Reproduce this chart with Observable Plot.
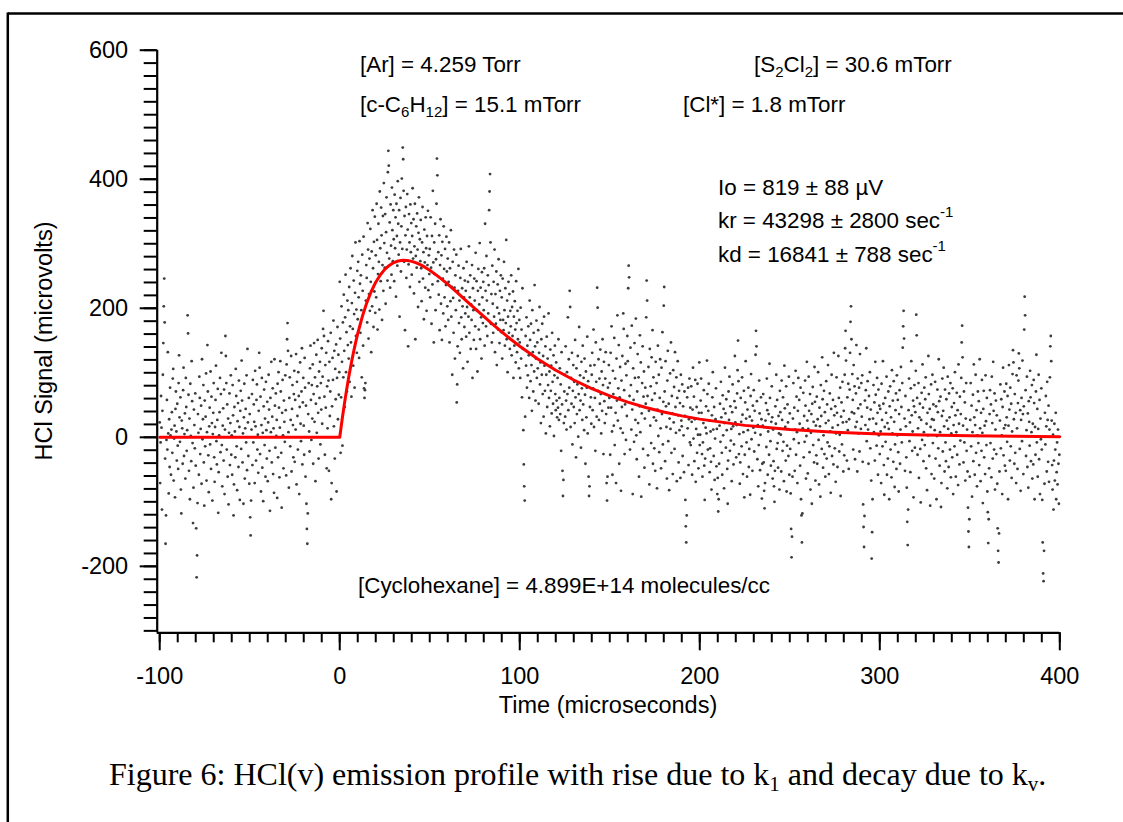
<!DOCTYPE html>
<html>
<head>
<meta charset="utf-8">
<script src="https://cdn.jsdelivr.net/npm/d3@7"></script>
<script src="https://cdn.jsdelivr.net/npm/@observablehq/plot@0.6"></script>
<style>
  html, body { margin: 0; padding: 0; background: #fff; }
  #page { position: relative; width: 1123px; height: 822px; overflow: hidden; background: #fff; }
  #page > svg { position: absolute; left: 0; top: 0; }
  #overlay { pointer-events: none; }
</style>
</head>
<body>
<div id="page"></div>
<script>
// ---- Scatter data: HCl signal (microvolts), sampled every 0.25 µs, in 50 µs segments ----
const segStarts = [-100, -50, 0, 50, 100, 150, 200, 250, 300, 350];
const sampleStep = 0.25;

const segM100 = [
23,-71,-8,64,15,-112,41,97,146,203,246,178,-33,-165,-121,-4,58,-19,132,6,
-87,28,-46,77,3,-58,12,39,-24,91,106,-67,-2,18,-93,44,71,9,-36,52,
-13,-49,84,127,31,-7,62,-81,-118,26,14,-41,73,108,-29,5,37,-64,92,47,
-21,11,189,161,66,-52,29,-96,83,2,-37,118,56,-9,-133,-78,43,19,-17,68,
-44,-141,-217,-183,-102,36,7,-58,94,61,-26,13,49,-72,121,-3,28,81,-39,-106,
57,-14,32,99,-67,8,143,71,-28,-85,17,46,-11,102,-49,63,22,-98,5,38,
84,-31,-69,16,58,111,-6,-42,27,75,-117,-54,3,39,92,-23,67,131,-12,-76,
18,45,-36,74,-88,12,157,126,84,-19,51,-61,29,-104,7,68,-43,22,96,-27,
3,-58,81,34,-121,-73,47,9,-31,106,64,-14,-82,25,53,-46,88,16,-97,41,
72,-18,119,57,-39,6,-103,31,83,-64,14,44,-8,96,-51,137,23,-29,61,-72];

const segM50 = [
36,-124,-152,-98,12,67,-43,89,-8,51,24,-71,103,17,-36,58,82,-19,4,-55,
41,131,108,-26,63,-84,19,92,-47,7,-99,48,74,-12,29,-61,86,11,-33,55,
-68,23,97,43,-21,-114,61,8,117,-39,32,76,-57,14,-86,121,49,-16,68,2,
27,-94,83,-31,101,46,-62,15,118,71,-24,-109,38,89,3,-48,57,24,-7,96,
42,-59,113,152,177,134,8,-78,61,93,-14,27,126,-53,44,81,19,-31,67,103,
-38,58,12,129,-73,86,33,-19,101,64,-88,47,116,21,-6,71,138,-42,54,92,
18,-27,123,77,-61,49,-103,-142,-165,-118,36,84,9,-22,107,142,58,-4,81,29,
113,-41,67,146,24,93,-68,52,128,7,79,151,38,-33,102,61,117,-11,84,43,
138,21,94,168,196,157,63,-27,112,46,131,-48,79,14,149,88,-52,117,33,71,
162,-96,-71,48,123,89,181,17,134,-33,106,59,144,-84,92,171,28,128,66,101];

const seg0 = [
241,153,-24,62,203,117,-13,178,93,221,134,47,186,252,101,163,71,212,143,197,
122,233,86,172,262,147,63,208,281,168,111,243,191,77,224,302,157,198,131,258,
183,272,217,123,304,238,162,251,197,93,283,227,142,311,76,61,73,84,212,267,
247,178,332,291,153,222,277,196,323,241,132,288,203,352,262,171,303,226,342,193,
282,217,362,306,167,253,331,272,198,381,293,242,356,313,182,267,343,227,394,301,
263,346,207,318,372,286,243,411,444,421,277,333,232,361,297,252,387,321,273,352,
307,242,376,293,341,218,362,312,266,397,331,283,352,187,302,371,257,327,401,292,
449,431,382,272,343,166,313,357,247,291,377,322,141,268,346,302,233,361,287,332,
252,312,386,277,338,223,296,362,152,281,327,263,347,291,202,317,372,241,307,273,
337,262,211,302,357,246,287,183,322,271,232,341,293,196,312,267,351,228,282,253];

const seg50 = [
292,217,341,263,176,312,237,382,271,147,302,253,331,197,276,362,432,406,242,287,
221,313,166,267,338,207,282,151,303,246,192,327,261,217,292,172,236,311,257,203,
277,182,241,302,147,262,211,321,187,233,97,272,216,162,291,232,122,251,197,283,
54,82,141,227,266,177,212,131,247,292,186,152,231,203,107,262,217,171,243,192,
227,156,272,202,117,241,187,296,162,217,251,137,206,182,267,92,231,197,151,246,
212,172,286,137,242,196,102,227,261,167,206,301,152,232,186,122,256,217,177,241,
197,262,142,331,227,172,281,212,157,251,192,236,352,381,408,302,176,222,147,266,
207,162,241,187,291,132,222,176,257,112,201,237,167,276,192,146,227,182,251,163,
217,122,246,182,166,272,197,142,231,177,306,152,212,101,187,241,162,222,137,196,
172,251,127,202,157,226,92,187,142,211,167,116,242,177,132,196,152,261,107,182];

const seg100 = [
147,92,201,122,167,62,231,137,11,-42,-76,-98,32,157,111,186,77,142,96,172,
127,61,212,151,87,176,112,41,197,132,71,162,102,236,141,57,122,181,92,147,
107,166,52,131,202,82,116,22,152,97,176,67,126,32,187,111,72,141,6,97,
156,47,122,81,192,61,102,17,136,72,111,37,162,86,52,127,2,96,142,67,
42,116,57,31,92,46,152,27,61,107,36,82,-21,132,51,-52,-91,-66,22,71,
97,32,141,57,12,101,67,186,42,121,77,227,202,16,92,52,131,-11,72,112,
47,86,22,151,62,-31,107,36,82,126,1,67,171,42,96,57,-16,117,76,27,
142,51,92,11,122,66,-41,102,31,77,156,6,87,-61,-91,-76,47,111,62,21,
97,131,42,76,167,16,112,61,-21,147,86,32,232,201,72,121,27,91,52,136,
67,6,102,41,152,81,-26,117,56,22,91,132,36,-71,-98,-61,77,46,112,61];

const seg150 = [
84,-27,131,46,172,9,-58,103,67,18,154,-12,91,38,-71,122,57,189,26,76,
143,-41,62,109,14,-83,88,47,126,7,192,168,73,-26,51,114,-4,96,33,157,
118,231,266,248,64,-19,139,81,12,173,43,-88,107,58,-7,146,92,27,184,3,
-34,71,129,22,93,-61,48,158,8,116,-92,37,84,141,-18,63,102,-47,29,77,
52,186,243,212,64,-28,109,41,-73,137,18,79,-9,124,58,166,-41,93,31,-17,
68,-52,117,26,84,-79,43,142,2,97,-23,61,121,14,-48,108,36,163,-11,55,
204,233,71,-37,118,48,16,-64,88,134,-6,52,-82,29,99,13,147,-24,64,37,
-57,104,23,78,-18,132,47,7,93,-68,61,118,34,-39,72,11,53,-63,97,26,
17,82,-29,48,3,-54,71,33,-97,-138,-163,-121,62,14,77,-43,28,91,-8,46,
-12,79,24,-58,43,108,-2,63,-37,28,89,-69,13,47,-24,83,4,-48,38,116];

const seg200 = [
-12,4,57,91,38,-26,-61,-8,22,73,-44,-97,-33,15,48,6,119,67,-19,41,
83,26,-54,-17,9,-38,-81,34,62,101,12,-29,47,-66,-2,28,76,-45,13,-88,
-63,-115,-96,-41,18,52,-7,86,31,-24,-58,65,3,44,-79,22,108,37,-16,59,
11,-49,-103,-36,71,27,94,-21,48,-5,13,-68,39,82,17,-42,-11,56,126,23,
46,-31,19,68,104,150,87,-26,5,-72,-39,61,24,-14,93,35,-57,8,72,-93,
-27,54,118,29,-8,-61,43,11,77,-46,-18,32,-89,64,98,-3,26,-52,49,15,
73,-22,41,7,128,165,141,56,-34,19,-76,-12,88,37,-51,4,62,28,-95,-41,
18,67,-39,-83,-110,-71,26,53,-15,91,42,-58,9,36,-27,114,61,-6,-44,24,
79,31,-64,12,-37,-76,-100,-52,48,21,97,-18,58,-9,-47,33,6,-81,72,39,
4,-53,88,27,-21,62,-7,-68,111,45,16,-36,79,-84,-13,51,23,-29,94,-58];

const seg250 = [
37,-18,-87,-142,-186,-154,-61,29,84,-3,46,-52,12,103,-27,63,8,-71,41,92,
-9,58,21,-44,77,-96,-121,-163,-118,14,69,-31,33,-7,88,49,-64,2,117,26,
-56,13,94,41,-23,67,-81,7,36,-103,52,78,-12,24,-39,109,55,-67,18,-28,
63,-41,28,101,-4,-73,46,17,-92,81,33,-18,124,59,-47,3,72,-26,39,-61,
22,87,-33,51,-8,112,26,-57,-14,68,9,-86,44,97,-29,15,58,-42,131,34,
-17,48,-69,6,93,38,-46,19,126,61,-22,4,77,-91,32,54,-11,86,23,-53,
41,-28,97,138,165,119,24,-36,62,11,83,-49,28,74,131,179,203,152,39,98,
58,-19,112,37,79,-34,16,68,143,24,-53,91,45,6,77,-22,129,51,13,84,
32,96,-38,-104,-139,-170,-122,57,19,73,138,-6,46,87,12,-41,64,28,101,-17,
43,-67,-188,-147,-96,29,81,8,54,-36,117,66,21,-13,92,38,-58,74,3,49];

const seg300 = [
-26,44,9,-71,83,27,-14,118,52,-43,-89,16,61,-7,38,94,-58,22,-33,71,
13,-96,48,79,-19,31,-62,104,6,57,-38,87,24,-77,-11,42,68,-49,96,3,
58,-23,-84,36,73,-41,12,109,47,-8,84,139,172,196,153,29,-52,64,17,-31,
-78,-131,-167,-112,42,91,-6,23,-54,76,118,34,-21,9,57,-93,48,81,-16,39,
103,190,158,61,-27,14,84,-63,31,52,-18,-101,27,69,-4,113,46,-37,8,77,
-12,59,93,-48,21,-82,38,3,126,67,-29,44,-106,16,82,-57,28,97,-9,51,
27,-64,11,86,-33,48,-96,2,74,39,-17,121,56,-44,8,63,-108,-71,33,91,
-22,41,108,17,-53,74,-8,-37,59,26,-79,94,13,-46,68,31,-19,84,-62,6,
47,-31,76,-88,19,53,-14,101,34,-61,8,69,-27,42,-74,113,21,-42,63,-5,
36,92,147,173,124,18,-39,71,-8,54,-67,29,84,-21,12,-53,-109,-146,-170,-127];

const seg350 = [
-61,27,84,-14,49,-92,8,66,-37,113,31,-58,19,97,-24,42,-76,3,71,-9,
56,-43,121,14,-68,38,-21,89,7,-102,44,72,-31,18,-57,96,25,-12,61,-84,
-116,-164,-127,-48,36,73,-9,51,-62,94,22,-33,117,41,-19,68,-81,12,57,-26,
34,-72,-141,-176,-194,-149,-53,26,82,-17,59,3,-88,47,108,-28,14,71,-44,19,
-52,83,31,-7,64,-96,18,112,43,-36,77,-14,52,-63,9,98,135,116,28,-41,
67,-24,38,-71,96,14,-49,53,88,130,107,-18,42,-83,27,61,-6,119,36,-57,
48,167,218,189,73,-29,11,94,-46,37,-78,56,24,-13,103,62,-37,8,81,-64,
21,-42,89,53,-96,16,-27,71,128,-8,44,-61,13,97,-34,58,-88,29,-3,76,
-19,-97,-163,-211,-223,-176,-72,38,-11,64,17,-53,86,27,-38,49,-69,12,93,141,
157,118,26,-43,-81,4,-112,-36,21,-67,-19,38,-96,-54,-8,-73,12,-41,-103,-27];

const segments = [segM100, segM50, seg0, seg50, seg100, seg150, seg200, seg250, seg300, seg350];

// ---- Fitted curve (red) ----
const fitTime = [-100, 0, 1.25, 2.5, 3.75, 5, 6.25, 7.5, 8.75, 10, 12.5, 15, 17.5, 20, 22.5, 25, 27.5, 30, 32.5, 35, 37.5, 40, 42.5, 45, 47.5, 50, 55, 60, 65, 70, 75, 80, 85, 90, 95, 100, 110, 120, 130, 140, 150, 160, 170, 180, 190, 200, 225, 250, 275, 300, 325, 350, 375, 400];
const fitSignal = [0, 0, 26.1, 50.3, 72.6, 93.3, 112.3, 129.8, 146.0, 160.9, 186.8, 208.4, 226.0, 240.4, 251.5, 260.2, 266.4, 270.8, 273.3, 274.4, 274.0, 272.7, 270.3, 267.2, 263.3, 258.9, 248.7, 237.3, 225.0, 212.4, 199.8, 187.3, 175.1, 163.3, 152.0, 141.2, 121.4, 104.0, 88.8, 75.6, 64.3, 54.5, 46.2, 39.2, 33.2, 28.2, 18.5, 12.2, 8.0, 5.2, 3.4, 2.3, 1.5, 1.0];

// ---- Axes ----
const xDomain = [-101.4, 400];
const yDomain = [-303, 600];
const xMajorTicks = [-100, 0, 100, 200, 300, 400];
const yMajorTicks = [-200, 0, 200, 400, 600];
const xMinorTicks = d3.range(-100, 401, 10);
const yMinorTicks = d3.range(-300, 601, 20);

const points = segments.flatMap((seg, k) => seg.map((v, i) => ({t: segStarts[k] + i * sampleStep, v})));
const fit = fitTime.map((t, i) => ({t, v: fitSignal[i]}));

const chart = Plot.plot({
  width: 1123,
  height: 822,
  marginLeft: 156.7,
  marginRight: 63.7,
  marginTop: 49.7,
  marginBottom: 189.7,
  x: {domain: xDomain, label: null},
  y: {domain: yDomain, label: null},
  style: {fontFamily: "'Liberation Sans', Arial, sans-serif", fontSize: "23.5px", color: "#000", background: "none", overflow: "visible"},
  marks: [
    Plot.dot(points, {x: "t", y: "v", r: 1.4, fill: "#3c3c3c", stroke: null}),
    Plot.line(fit, {x: "t", y: "v", stroke: "#ff0000", strokeWidth: 3}),
    Plot.ruleX([xDomain[0]], {stroke: "#000", strokeWidth: 2.2}),
    Plot.ruleY([yDomain[0]], {stroke: "#000", strokeWidth: 2.2}),
    Plot.axisY(yMinorTicks, {tickSize: 13, tickFormat: () => "", strokeWidth: 2, label: null}),
    Plot.axisY(yMajorTicks, {tickSize: 17, tickPadding: 12, tickFormat: d => String(d), strokeWidth: 2, label: null}),
    Plot.axisX(xMinorTicks, {tickSize: 10, tickFormat: () => "", strokeWidth: 2, label: null}),
    Plot.axisX(xMajorTicks, {tickSize: 18, tickPadding: 17, tickFormat: d => String(d), strokeWidth: 2, label: null})
  ]
});
document.getElementById("page").appendChild(chart);

// ---- Text overlay (annotations, axis titles, caption, figure border) ----
const overlay = `
<svg id="overlay" xmlns="http://www.w3.org/2000/svg" width="1123" height="822" font-family="'Liberation Sans', Arial, sans-serif" font-size="22.4" fill="#000">
  <line x1="7.8" y1="13.6" x2="1123" y2="13.6" stroke="#000" stroke-width="2.5"/>
  <line x1="7.8" y1="12.4" x2="7.8" y2="822" stroke="#000" stroke-width="2.5"/>
  <text x="360" y="72">[Ar] = 4.259 Torr</text>
  <text x="754" y="72">[S<tspan font-size="15" dy="5">2</tspan><tspan dy="-5">Cl</tspan><tspan font-size="15" dy="5">2</tspan><tspan dy="-5">] = 30.6 mTorr</tspan></text>
  <text x="360" y="112">[c-C<tspan font-size="15" dy="5">6</tspan><tspan dy="-5">H</tspan><tspan font-size="15" dy="5">12</tspan><tspan dy="-5">] = 15.1 mTorr</tspan></text>
  <text x="683" y="112">[Cl*] = 1.8 mTorr</text>
  <text x="718" y="195">Io = 819 ± 88 µV</text>
  <text x="718" y="228">kr = 43298 ± 2800 sec<tspan font-size="15" dy="-11">-1</tspan></text>
  <text x="718" y="262">kd = 16841 ± 788 sec<tspan font-size="15" dy="-11">-1</tspan></text>
  <text x="358" y="593">[Cyclohexane] = 4.899E+14 molecules/cc</text>
  <text x="608" y="713" text-anchor="middle" font-size="23.5">Time (microseconds)</text>
  <text transform="translate(52,341) rotate(-90)" text-anchor="middle" font-size="23.5">HCl Signal (microvolts)</text>
  <text x="109" y="785" font-family="'Liberation Serif', 'Times New Roman', serif" font-size="32">Figure 6: HCl(v) emission profile with rise due to k<tspan font-size="21" dy="6">1</tspan><tspan dy="-6"> and decay due to k</tspan><tspan font-size="21" dy="6">v</tspan><tspan dy="-6">.</tspan></text>
</svg>`;
document.getElementById("page").insertAdjacentHTML("beforeend", overlay);
</script>
</body>
</html>
